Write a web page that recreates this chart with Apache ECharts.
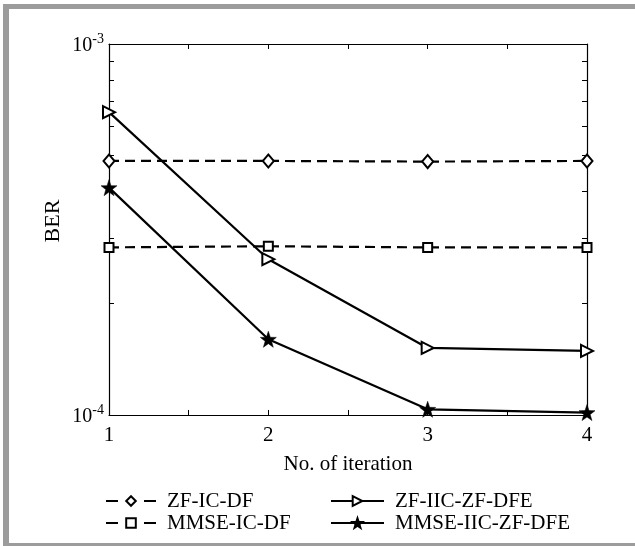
<!DOCTYPE html>
<html>
<head>
<meta charset="utf-8">
<script src="https://cdn.jsdelivr.net/npm/echarts@6/dist/echarts.min.js"></script>
<style>
html,body{margin:0;padding:0;background:#fff;}
#c{width:635px;height:546px;}
</style>
</head>
<body>
<div id="c"></div>
<script>
const iterations = [1, 2, 3, 4];
const zfIcDf = [4.84e-4, 4.84e-4, 4.82e-4, 4.84e-4];
const mmseIcDf = [2.83e-4, 2.85e-4, 2.83e-4, 2.83e-4];
const zfIicZfDfe = [6.55e-4, 2.63e-4, 1.516e-4, 1.488e-4];
const mmseIicZfDfe = [4.10e-4, 1.60e-4, 1.036e-4, 1.015e-4];
const yTickValues = [1e-4, 2e-4, 3e-4, 4e-4, 5e-4, 6e-4, 7e-4, 8e-4, 9e-4, 1e-3];
const yLabelValues = [1e-4, 1e-3];
const seriesNames = ['ZF-IC-DF', 'MMSE-IC-DF', 'ZF-IIC-ZF-DFE', 'MMSE-IIC-ZF-DFE'];

const FONT = 'Liberation Serif';
const pair = (xs, ys) => xs.map((x, i) => [x, ys[i]]);
const STAR = 'path://M0,-10L2.35,-3.24L9.51,-3.09L3.8,1.24L5.88,8.09L0,4L-5.88,8.09L-3.8,1.24L-9.51,-3.09L-2.35,-3.24Z';
const TRI = 'path://M0,0L10,5L0,10Z';

const chart = echarts.init(document.getElementById('c'), null, {renderer: 'canvas'});
const grid = {left: 109, top: 44, right: 48, bottom: 131};

function supLabel(v) {
  const e = Math.round(Math.log10(v));
  return '{b|10}{s|' + e + '}';
}

const axisLine = {show: true, lineStyle: {color: '#000', width: 1.2}};
const legendText = {fontFamily: FONT, fontSize: 21, color: '#000', lineHeight: 22, padding: [0, 0, 0, 6]};

chart.setOption({
  animation: false,
  backgroundColor: '#fff',
  textStyle: {fontFamily: FONT},
  graphic: [
    {type: 'rect', shape: {x: 3, y: 4, width: 632, height: 5}, style: {fill: '#9c9c9c'}, silent: true},
    {type: 'rect', shape: {x: 3, y: 4, width: 6, height: 542}, style: {fill: '#9c9c9c'}, silent: true},
    {type: 'rect', shape: {x: 3, y: 543, width: 632, height: 3}, style: {fill: '#9c9c9c'}, silent: true}
  ],
  grid: grid,
  legend: [
    {
      data: [seriesNames[0], seriesNames[1]],
      orient: 'vertical', left: 100, top: 485,
      itemWidth: 50, itemHeight: 12, itemGap: 0,
      lineStyle: {type: [12, 26]},
      textStyle: legendText
    },
    {
      data: [seriesNames[2], seriesNames[3]],
      orient: 'vertical', left: 325, top: 485,
      itemWidth: 53, itemHeight: 12, itemGap: 0,
      textStyle: legendText
    }
  ],
  xAxis: [
    {
      type: 'value', min: 1, max: 4, interval: 0.5,
      name: 'No. of iteration', nameLocation: 'middle', nameGap: 39,
      nameTextStyle: {fontFamily: FONT, fontSize: 21, color: '#000'},
      axisLine: axisLine,
      axisTick: {show: true, inside: true, length: 5, lineStyle: {color: '#000'}},
      axisLabel: {
        fontFamily: FONT, fontSize: 21, color: '#000', margin: 10,
        formatter: v => (Math.abs(v - Math.round(v)) < 1e-9 ? String(Math.round(v)) : '')
      },
      splitLine: {show: false}
    },
    {
      type: 'value', min: 1, max: 4, interval: 0.5, position: 'top',
      axisLine: axisLine,
      axisTick: {show: true, inside: true, length: 5, lineStyle: {color: '#000'}},
      axisLabel: {show: false},
      splitLine: {show: false}
    }
  ],
  yAxis: [
    {
      type: 'log', logBase: 10, min: 1e-4, max: 1e-3,
      name: 'BER', nameLocation: 'middle', nameGap: 45, nameRotate: 90,
      nameMoveOverlap: false,
      nameTextStyle: {fontFamily: FONT, fontSize: 22, color: '#000', padding: [0, 0, 0, 17]},
      axisLine: axisLine,
      axisTick: {show: true, inside: true, length: 5, lineStyle: {color: '#000'}, customValues: yTickValues},
      axisLabel: {
        customValues: yLabelValues, margin: 5,
        formatter: supLabel,
        rich: {
          b: {fontFamily: FONT, fontSize: 20, color: '#000', lineHeight: 24, verticalAlign: 'bottom'},
          s: {fontFamily: FONT, fontSize: 14, color: '#000', lineHeight: 12, verticalAlign: 'top'}
        },
        lineHeight: 34
      },
      splitLine: {show: false}
    },
    {
      type: 'log', logBase: 10, min: 1e-4, max: 1e-3, position: 'right',
      axisLine: axisLine,
      axisTick: {show: true, inside: true, length: 5, lineStyle: {color: '#000'}, customValues: yTickValues},
      axisLabel: {show: false},
      splitLine: {show: false}
    }
  ],
  series: [
    {
      name: seriesNames[0], type: 'line', data: pair(iterations, zfIcDf),
      symbol: 'diamond', symbolSize: [11, 13],
      itemStyle: {color: '#fff', borderColor: '#000', borderWidth: 2},
      lineStyle: {color: '#000', width: 2.2, type: [10, 6]}
    },
    {
      name: seriesNames[1], type: 'line', data: pair(iterations, mmseIcDf),
      symbol: 'rect', symbolSize: 9,
      itemStyle: {color: '#fff', borderColor: '#000', borderWidth: 2},
      lineStyle: {color: '#000', width: 2.2, type: [10, 6]}
    },
    {
      name: seriesNames[2], type: 'line', data: pair(iterations, zfIicZfDfe),
      symbol: TRI, symbolSize: [12, 12],
      itemStyle: {color: '#fff', borderColor: '#000', borderWidth: 2},
      lineStyle: {color: '#000', width: 2.2}
    },
    {
      name: seriesNames[3], type: 'line', data: pair(iterations, mmseIicZfDfe),
      symbol: STAR, symbolSize: 16,
      itemStyle: {color: '#000', borderColor: '#000', borderWidth: 0.5},
      lineStyle: {color: '#000', width: 2.2}
    }
  ]
});
</script>
</body>
</html>
